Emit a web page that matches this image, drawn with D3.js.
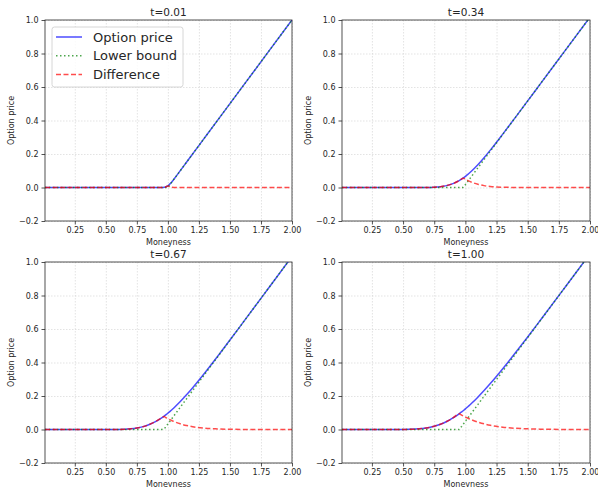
<!DOCTYPE html>
<html>
<head>
<meta charset="utf-8">
<script src="https://cdn.jsdelivr.net/npm/d3@7"></script>
<style>
  body { margin: 0; background: #fff; }
  svg { font-family: "DejaVu Sans", sans-serif; }
</style>
</head>
<body>
<div id="chart"></div>
<script>
  // moneyness grid shared by all four panels
  var moneyness = [0.01, 0.5, 0.6, 0.7, 0.75, 0.8, 0.85, 0.9, 0.95, 0.97, 0.98, 0.99, 1.0,
                   1.01, 1.02, 1.03, 1.05, 1.1, 1.15, 1.2, 1.3, 1.4, 1.5, 1.6, 1.8, 2.0];

  var titles = ["t=0.01", "t=0.34", "t=0.67", "t=1.00"];

  var price001 = [0, 0, 0, 0, 0, 0, 0, 0, 0, 0.0013, 0.0030, 0.0059, 0.0102,
                  0.0162, 0.0234, 0.0318, 0.0508, 0.1005, 0.1505, 0.2005, 0.3005, 0.4005, 0.5005, 0.6005, 0.8005, 1.0005];
  var lower001 = [0, 0, 0, 0, 0, 0, 0, 0, 0, 0, 0, 0, 0.0005,
                  0.0105, 0.0205, 0.0305, 0.0505, 0.1005, 0.1505, 0.2005, 0.3005, 0.4005, 0.5005, 0.6005, 0.8005, 1.0005];
  var diff001  = [0, 0, 0, 0, 0, 0, 0, 0, 0, 0.0013, 0.0030, 0.0059, 0.0097,
                  0.0057, 0.0029, 0.0013, 0.0003, 0, 0, 0, 0, 0, 0, 0, 0, 0];

  var price034 = [0, 0, 0, 0.0004, 0.0016, 0.0047, 0.0112, 0.0229, 0.0411, 0.0507, 0.0556, 0.0609, 0.0664,
                  0.0722, 0.0784, 0.0848, 0.0985, 0.1361, 0.1781, 0.2231, 0.3187, 0.4173, 0.5170, 0.6170, 0.8169, 1.0169];
  var lower034 = [0, 0, 0, 0, 0, 0, 0, 0, 0, 0, 0, 0.0069, 0.0169,
                  0.0269, 0.0369, 0.0469, 0.0669, 0.1169, 0.1669, 0.2169, 0.3169, 0.4169, 0.5169, 0.6169, 0.8169, 1.0169];
  var diff034  = [0, 0, 0, 0.0004, 0.0016, 0.0047, 0.0112, 0.0229, 0.0411, 0.0507, 0.0556, 0.0540, 0.0495,
                  0.0453, 0.0415, 0.0379, 0.0316, 0.0192, 0.0112, 0.0062, 0.0018, 0.0004, 0.0001, 0, 0, 0];

  var price067 = [0, 0, 0.0005, 0.0041, 0.0088, 0.0170, 0.0297, 0.0472, 0.0698, 0.0803, 0.0858, 0.0915, 0.0976,
                  0.1037, 0.1100, 0.1165, 0.1302, 0.1668, 0.2070, 0.2495, 0.3404, 0.4363, 0.5343, 0.6335, 0.8330, 1.0331];
  var lower067 = [0, 0, 0, 0, 0, 0, 0, 0, 0, 0.0029, 0.0129, 0.0229, 0.0329,
                  0.0429, 0.0529, 0.0629, 0.0829, 0.1329, 0.1829, 0.2329, 0.3329, 0.4329, 0.5329, 0.6329, 0.8329, 1.0329];
  var diff067  = [0, 0, 0.0005, 0.0041, 0.0088, 0.0170, 0.0297, 0.0472, 0.0698, 0.0774, 0.0729, 0.0686, 0.0647,
                  0.0608, 0.0571, 0.0536, 0.0473, 0.0339, 0.0241, 0.0166, 0.0075, 0.0034, 0.0014, 0.0006, 0.0001, 0];

  var price100 = [0, 0.0003, 0.0024, 0.0107, 0.0193, 0.0315, 0.0478, 0.0688, 0.0939, 0.1048, 0.1105, 0.1167, 0.1234,
                  0.1297, 0.1361, 0.1427, 0.1566, 0.1931, 0.2325, 0.2740, 0.3628, 0.4563, 0.5527, 0.6509, 0.8493, 1.0489];
  var lower100 = [0, 0, 0, 0, 0, 0, 0, 0, 0, 0.0188, 0.0288, 0.0388, 0.0488,
                  0.0588, 0.0688, 0.0788, 0.0988, 0.1488, 0.1988, 0.2488, 0.3488, 0.4488, 0.5488, 0.6488, 0.8488, 1.0488];
  var diff100  = [0, 0.0003, 0.0024, 0.0107, 0.0193, 0.0315, 0.0478, 0.0688, 0.0939, 0.0860, 0.0817, 0.0779, 0.0746,
                  0.0709, 0.0673, 0.0639, 0.0578, 0.0443, 0.0337, 0.0252, 0.0140, 0.0075, 0.0039, 0.0021, 0.0005, 0.0001];

  var xTicks = [0.25, 0.5, 0.75, 1.0, 1.25, 1.5, 1.75, 2.0];
  var yTicks = [-0.2, 0, 0.2, 0.4, 0.6, 0.8, 1.0];
  var legendLabels = ["Option price", "Lower bound", "Difference"];

  var prices = [price001, price034, price067, price100],
      lowers = [lower001, lower034, lower067, lower100],
      diffs  = [diff001, diff034, diff067, diff100];

  var width = 598, height = 487;

  var svg = d3.select("#chart")
              .append("svg")
              .attr("width", width)
              .attr("height", height);

  var boxes = [
    {left: 45,  top: 20,  w: 247, h: 201},
    {left: 342, top: 20,  w: 248, h: 201},
    {left: 45,  top: 262, w: 247, h: 201},
    {left: 342, top: 262, w: 248, h: 201}
  ];

  var styles = [
    {color: "#0000ff", dash: null,  width: 1.5},
    {color: "#008000", dash: "1.5,2.5", width: 1.5},
    {color: "#ff0000", dash: "5,2.5", width: 1.5}
  ];

  var minus = d => d < 0 ? "\u2212" + Math.abs(d).toFixed(1) : d.toFixed(1);

  boxes.forEach(function(b, p){
    var g = svg.append("g").attr("transform", "translate(" + b.left + "," + b.top + ")");

    var x = d3.scaleLinear().domain([0.01, 2.0]).range([0, b.w]);
    var y = d3.scaleLinear().domain([-0.2, 1.0]).range([b.h, 0]);

    // grid
    g.append("g")
      .attr("class", "grid")
      .call(d3.axisBottom(x).tickValues(xTicks).tickSize(b.h).tickFormat(""))
      .call(s => s.select(".domain").remove())
      .selectAll("line")
        .attr("stroke", "#d0d0d0")
        .attr("stroke-width", 0.6)
        .attr("stroke-dasharray", "1.5,1.5");

    g.append("g")
      .call(d3.axisLeft(y).tickValues(yTicks).tickSize(-b.w).tickFormat(""))
      .call(s => s.select(".domain").remove())
      .selectAll("line")
        .attr("stroke", "#d0d0d0")
        .attr("stroke-width", 0.6)
        .attr("stroke-dasharray", "1.5,1.5");

    var clipId = "clip" + p;
    g.append("clipPath").attr("id", clipId)
      .append("rect").attr("width", b.w).attr("height", b.h);

    var series = [prices[p], lowers[p], diffs[p]];
    var plot = g.append("g").attr("clip-path", "url(#" + clipId + ")");

    series.forEach(function(vals, i){
      var line = d3.line()
                   .x((d, j) => x(moneyness[j]))
                   .y(d => y(d))
                   .curve(i === 1 ? d3.curveLinear : d3.curveMonotoneX);
      plot.append("path")
        .datum(vals)
        .attr("d", line)
        .attr("fill", "none")
        .attr("stroke", styles[i].color)
        .attr("stroke-opacity", 0.7)
        .attr("stroke-width", styles[i].width)
        .attr("stroke-dasharray", styles[i].dash);
    });

    // axes
    var xa = g.append("g")
      .attr("transform", "translate(0," + b.h + ")")
      .call(d3.axisBottom(x).tickValues(xTicks).tickSize(3.5).tickPadding(3).tickFormat(d => d.toFixed(2)));
    var ya = g.append("g")
      .call(d3.axisLeft(y).tickValues(yTicks).tickSize(3.5).tickPadding(3).tickFormat(minus));
    [xa, ya].forEach(a => {
      a.selectAll("text").attr("font-size", 8).attr("font-family", "DejaVu Sans").attr("fill", "#262626");
      a.select(".domain").remove();
      a.selectAll("line").attr("stroke", "#262626").attr("stroke-width", 0.8);
    });

    g.append("rect")
      .attr("width", b.w).attr("height", b.h)
      .attr("fill", "none").attr("stroke", "#262626").attr("stroke-width", 0.8);

    g.append("text")
      .attr("x", b.w / 2).attr("y", -4)
      .attr("text-anchor", "middle")
      .attr("font-size", 10.5).attr("fill", "#262626")
      .text(titles[p]);

    g.append("text")
      .attr("x", b.w / 2).attr("y", b.h + 23.5)
      .attr("text-anchor", "middle")
      .attr("font-size", 8).attr("fill", "#262626")
      .text("Moneyness");

    g.append("text")
      .attr("transform", "translate(" + (-31.5) + "," + (b.h / 2) + ") rotate(-90)")
      .attr("text-anchor", "middle")
      .attr("font-size", 8).attr("fill", "#262626")
      .text("Option price");

    if(p === 0){
      var lg = g.append("g").attr("transform", "translate(7,7)");
      lg.append("rect")
        .attr("width", 131).attr("height", 60).attr("rx", 2.5)
        .attr("fill", "#fff").attr("fill-opacity", 0.8)
        .attr("stroke", "#cccccc").attr("stroke-width", 0.8);
      legendLabels.forEach(function(lbl, i){
        var yy = 10 + i * 18.7;
        lg.append("line")
          .attr("x1", 4).attr("x2", 30).attr("y1", yy).attr("y2", yy)
          .attr("stroke", styles[i].color).attr("stroke-opacity", 0.7)
          .attr("stroke-width", styles[i].width)
          .attr("stroke-dasharray", styles[i].dash);
        lg.append("text")
          .attr("x", 41).attr("y", yy + 4.6)
          .attr("font-size", 13).attr("fill", "#262626")
          .text(lbl);
      });
    }
  });
</script>
</body>
</html>
